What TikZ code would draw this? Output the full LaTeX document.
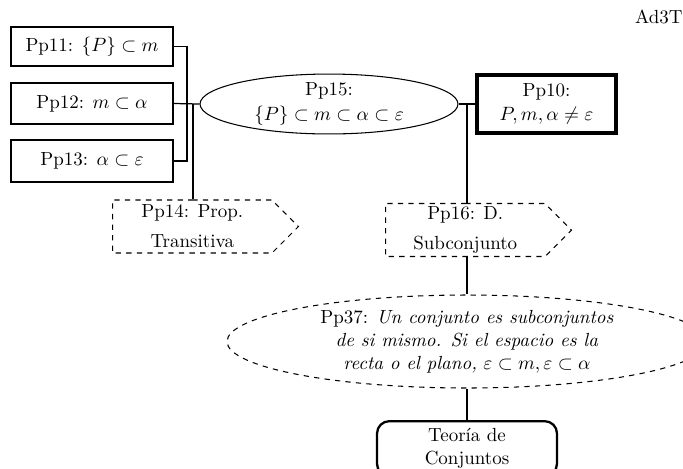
\documentclass[tikz,border=0pt]{standalone}
\usetikzlibrary{shapes.geometric,shapes.symbols}
\begin{document}
\begin{tikzpicture}[x=0.02cm,y=-0.02cm,
  every node/.style={font=\fontsize{10.8}{13}\selectfont},
  plainbox/.style={draw, line width=0.6pt, minimum width=3.24cm, align=center, inner sep=1pt},
  keybox/.style={draw, line width=1.9pt, minimum width=2.78cm, minimum height=1.16cm, align=center, inner sep=1pt},
  oval/.style={draw, ellipse, line width=0.6pt, align=center, inner sep=0pt},
  sigbox/.style={draw, dashed, line width=0.6pt, signal, signal to=east, signal pointer angle=90,
                 minimum width=3.72cm, minimum height=1.06cm, align=center, inner sep=1pt, anchor=west},
  roundbox/.style={draw, line width=1.3pt, rounded corners=7pt, minimum width=3.6cm,
                   minimum height=1.1cm, align=center, inner sep=1pt},
  link/.style={line width=0.7pt}]
\useasboundingbox (0,0) rectangle (683,468);
\clip (0,0) rectangle (683,468);

% corner tag
\node[anchor=east, inner sep=0pt] (tag) at (683,17) {Ad3T};

% premises on the left
\node[plainbox, minimum height=0.78cm] (p11) at (92,46.5) {Pp11: $\{P\}\subset m$};
\node[plainbox, minimum height=0.82cm] (p12) at (92,103.5) {Pp12: $m\subset\alpha$};
\node[plainbox, minimum height=0.84cm] (p13) at (92,161) {Pp13: $\alpha\subset\varepsilon$};

% central chain
\node[oval, minimum width=5.16cm, minimum height=0.94cm] (p15) at (329,104)
  {Pp15:\\[1pt]$\{P\}\subset m\subset\alpha\subset\varepsilon$};
\node[keybox] (p10) at (546.5,104) {Pp10:\\[1pt]$P,m,\alpha\neq\varepsilon$};

% definitions
\node[sigbox] (p14) at (112,226.5) {Pp14: Prop.\\[4pt]Transitiva};
\node[sigbox] (p16) at (385,230) {Pp16: D.\\[4pt]Subconjunto};

% consequence and theory
\node[oval, dashed, minimum width=9.6cm, minimum height=1.86cm] (p37) at (467,341.5)
  {Pp37: \textit{Un conjunto es subconjuntos}\\
   \textit{de si mismo. Si el espacio es la}\\
   \textit{recta o el plano,} $\varepsilon\subset m,\varepsilon\subset\alpha$};
\node[roundbox, anchor=north] (teo) at (467,420) {Teoría de\\Conjuntos};

% junction points
\coordinate (jl) at (187,104);
\coordinate (jt) at (193,104);
\coordinate (jr) at (467,104);

% connectors
\draw[link] (p11.east) -| (jl) |- (p13.east);
\draw[link] (p12.east) -- (p15.west);
\draw[link] (jt) -- (jt |- p14.north);
\draw[link] (p15.east) -- (p10.west);
\draw[link] (jr) -- (jr |- p16.north);
\draw[link] (jr |- p16.south) -- (p37.north);
\draw[link] (p37.south) -- (teo.north);
\end{tikzpicture}
\end{document}
